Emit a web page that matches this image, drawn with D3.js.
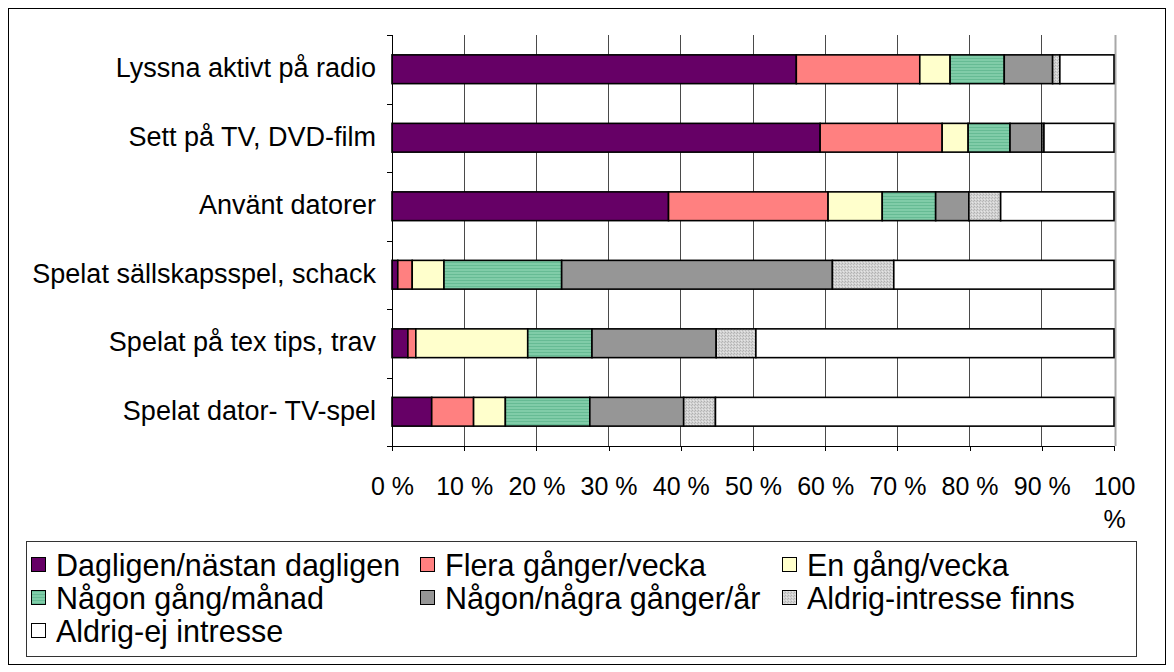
<!DOCTYPE html>
<html>
<head>
<meta charset="utf-8">
<script src="https://d3js.org/d3.v7.min.js"></script>
<style>
    body { margin: 0; background: #fff; }
    text { font-family: "Liberation Sans", Arial, sans-serif; fill: #000; }
    .grid line { stroke: #4a4a4a; stroke-width: 1px; shape-rendering: crispEdges; }
    .axis path, .axis line { stroke: #000; stroke-width: 1px; shape-rendering: crispEdges; }
</style>
</head>
<body>
<svg id="chart" width="1174" height="672"></svg>
<script>
    // categories, top to bottom
    var categories = ["Lyssna aktivt på radio", "Sett på TV, DVD-film", "Använt datorer",
        "Spelat sällskapsspel, schack", "Spelat på tex tips, trav", "Spelat dator- TV-spel"];

    var seriesNames = ["Dagligen/nästan dagligen", "Flera gånger/vecka", "En gång/vecka",
        "Någon gång/månad", "Någon/några gånger/år", "Aldrig-intresse finns", "Aldrig-ej intresse"];

    // values (%) per series, in category order
    var dagligen   = [56.0, 59.3, 38.3, 0.8, 2.2, 5.5];
    var flera      = [17.1, 16.9, 22.1, 2.0, 1.1, 5.8];
    var enGang     = [4.2, 3.6, 7.5, 4.4, 15.5, 4.4];
    var manad      = [7.5, 5.8, 7.4, 16.3, 8.9, 11.7];
    var ar         = [6.7, 4.4, 4.6, 37.5, 17.2, 13.0];
    var intresse   = [1.0, 0.3, 4.4, 8.5, 5.5, 4.4];
    var ejIntresse = [7.5, 9.7, 15.7, 30.5, 49.6, 55.2];

    var tickValues = [0, 10, 20, 30, 40, 50, 60, 70, 80, 90, 100];
    var tickLabels = ["0 %", "10 %", "20 %", "30 %", "40 %", "50 %", "60 %", "70 %", "80 %", "90 %", "100 %"];

    var seriesValues = [dagligen, flera, enGang, manad, ar, intresse, ejIntresse];
    var fills = ["#660066", "#ff8080", "#ffffcc", "url(#stripes)", "#969696", "url(#speckle)", "#ffffff"];

    var svg = d3.select("#chart");

    // patterns
    var defs = svg.append("defs");
    var stripes = defs.append("pattern").attr("id", "stripes")
        .attr("patternUnits", "userSpaceOnUse").attr("width", 4).attr("height", 3);
    stripes.append("rect").attr("width", 4).attr("height", 3).attr("fill", "#80cca8");
    stripes.append("rect").attr("y", 2).attr("width", 4).attr("height", 1).attr("fill", "#66bb94");
    var speckle = defs.append("pattern").attr("id", "speckle")
        .attr("patternUnits", "userSpaceOnUse").attr("width", 3).attr("height", 3);
    speckle.append("rect").attr("width", 3).attr("height", 3).attr("fill", "#d2d2d2");
    speckle.append("rect").attr("x", 0).attr("y", 0).attr("width", 1).attr("height", 1).attr("fill", "#b0b0b0");
    speckle.append("rect").attr("x", 2).attr("y", 1).attr("width", 1).attr("height", 1).attr("fill", "#b8b8b8");
    speckle.append("rect").attr("x", 1).attr("y", 2).attr("width", 1).attr("height", 1).attr("fill", "#e6e6e6");

    // outer frame
    svg.append("rect").attr("x", 8.5).attr("y", 8.5).attr("width", 1157).attr("height", 656)
        .attr("fill", "#fff").attr("stroke", "#000").attr("stroke-width", 1);

    var margin = {top: 35, left: 392, right: 60, bottom: 226};
    var width = 1174 - margin.left - margin.right,
        height = 672 - margin.top - margin.bottom;

    var x = d3.scaleLinear().domain([0, 100]).range([0, width]);
    var y = d3.scaleBand().domain(categories).range([0, height])
        .paddingInner(0.58).paddingOuter(0.29);

    var g = svg.append("g").attr("transform", "translate(" + margin.left + "," + margin.top + ")");

    // vertical grid
    g.append("g").attr("class", "grid")
        .selectAll("line").data(tickValues.slice(1, -1)).enter().append("line")
        .attr("x1", function (d) { return x(d); }).attr("x2", function (d) { return x(d); })
        .attr("y1", 0).attr("y2", height);

    // right plot border
    g.append("line").attr("x1", x(100) + 1.5).attr("x2", x(100) + 1.5).attr("y1", 0).attr("y2", height)
        .attr("stroke", "#a8a8a8").attr("stroke-width", 2);

    // stacked bars
    var stackData = categories.map(function (c, i) {
        var row = {cat: c};
        seriesNames.forEach(function (s, j) { row[s] = seriesValues[j][i]; });
        return row;
    });
    var stacked = d3.stack().keys(seriesNames)(stackData);

    g.selectAll(".series").data(stacked).enter().append("g")
        .attr("class", "series")
        .attr("fill", function (d, i) { return fills[i]; })
        .selectAll("rect").data(function (d) { return d; }).enter().append("rect")
        .attr("x", function (d) { return x(d[0]); })
        .attr("y", function (d) { return y(d.data.cat); })
        .attr("width", function (d) { return x(d[1]) - x(d[0]); })
        .attr("height", y.bandwidth())
        .attr("stroke", "#000").attr("stroke-width", 1.6);

    // y axis: line, boundary ticks, labels
    g.append("line").attr("x1", 0).attr("x2", 0).attr("y1", 0).attr("y2", height)
        .attr("stroke", "#000").attr("stroke-width", 1).style("shape-rendering", "crispEdges");
    var bounds = categories.map(function (c) { return y(c) - y.step() * y.paddingInner() / 2; });
    bounds.push(height);
    g.selectAll(".ytick").data(bounds).enter().append("line")
        .attr("x1", -5).attr("x2", 0)
        .attr("y1", function (d) { return Math.round(d) + 0.5; })
        .attr("y2", function (d) { return Math.round(d) + 0.5; })
        .attr("stroke", "#000");
    g.selectAll(".ylabel").data(categories).enter().append("text")
        .attr("x", -16)
        .attr("y", function (d) { return y(d) + y.bandwidth() / 2; })
        .attr("dy", "0.3em")
        .attr("text-anchor", "end")
        .style("font-size", "27px")
        .text(function (d) { return d; });

    // x axis
    var xAxis = g.append("g").attr("class", "axis")
        .attr("transform", "translate(0," + height + ")")
        .call(d3.axisBottom(x).tickValues(tickValues).tickSize(5).tickSizeOuter(0)
            .tickFormat(function (d, i) { return tickLabels[i]; }));
    xAxis.selectAll("text").style("font-size", "25px").attr("y", 41).attr("dy", "0.32em");
    xAxis.selectAll("text").filter(function (d) { return d === 100; }).each(function () {
        var t = d3.select(this), parts = t.text().split(" ");
        t.text("");
        t.append("tspan").attr("x", 0).text(parts[0]);
        t.append("tspan").attr("x", 0).attr("dy", "1.32em").text(parts[1]);
    });

    // legend
    var legend = svg.append("g");
    legend.append("rect").attr("x", 26.5).attr("y", 541.5).attr("width", 1110).attr("height", 115)
        .attr("fill", "#fff").attr("stroke", "#333").attr("stroke-width", 1);
    var colX = [31, 420, 782];
    var rowY = [565, 598, 631];
    var items = legend.selectAll(".item").data(seriesNames).enter().append("g")
        .attr("transform", function (d, i) {
            return "translate(" + colX[i % 3] + "," + rowY[Math.floor(i / 3)] + ")";
        });
    items.append("rect").attr("x", 0.5).attr("y", -7.5).attr("width", 14).attr("height", 14)
        .attr("fill", function (d, i) { return fills[i]; })
        .attr("stroke", "#000").attr("stroke-width", 1);
    items.append("text").attr("x", 25).attr("dy", "0.36em")
        .style("font-size", "30.5px")
        .text(function (d) { return d; });
</script>
</body>
</html>
